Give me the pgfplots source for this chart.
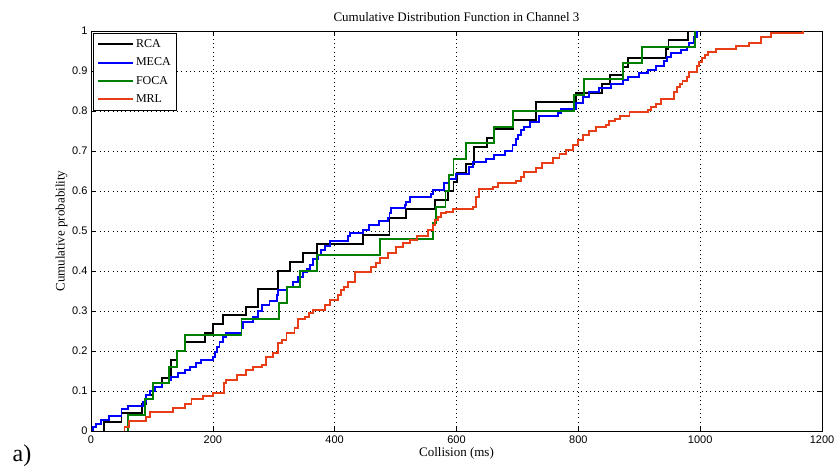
\documentclass[border=0pt]{standalone}
\usepackage{fontspec}
\setmainfont{Liberation Serif}
\newfontfamily\ticksans{Liberation Sans}
\usepackage{pgfplots}
\pgfplotsset{compat=1.18}
\usetikzlibrary{calc}
\definecolor{mblue}{RGB}{0,0,255}
\definecolor{mgreen}{RGB}{0,128,0}
\definecolor{mred}{RGB}{232,62,24}
\begin{document}
\begin{tikzpicture}
\begin{axis}[
  scale only axis,
  width=731bp, height=400bp,
  xmin=0, xmax=1200, ymin=0, ymax=1,
  xtick={0,200,...,1200},
  xticklabels={0,200,400,600,800,1000,1200},
  ytick={0,0.1,...,1},
  yticklabels={0,0.1,0.2,0.3,0.4,0.5,0.6,0.7,0.8,0.9,1},
  xtick pos=both, ytick pos=both,
  tick align=inside,
  major tick length=5bp,
  tick style={black, line width=0.5bp},
  axis line style={black, line width=0.8bp},
  grid=major,
  major grid style={black, line width=0.5bp, dash pattern=on 0.8bp off 3.5bp},
  /pgf/number format/assume math mode=true,
  ticklabel style={font=\ticksans\fontsize{11bp}{13bp}\selectfont},
  xticklabel style={yshift=-1bp},
  title={Cumulative Distribution Function in Channel 3},
  title style={font=\fontsize{13bp}{15bp}\selectfont, yshift=0bp},
  xlabel={Collision (ms)},
  ylabel={Cumulative probability},
  label style={font=\fontsize{13bp}{15bp}\selectfont},
  xlabel style={yshift=3bp},
  ylabel style={yshift=-2bp},
  legend style={at={(0.003,0.995)}, anchor=north west, draw=black, line width=0.9bp,
    font=\fontsize{12bp}{14bp}\selectfont, row sep=5bp, inner xsep=3.5bp, inner ysep=4bp},
  legend cell align=left,
  legend image code/.code={\draw[#1, line width=1.9bp] (0bp,0bp) -- (35bp,0bp);},
]
% RCA
\addplot[black, line width=1.9bp, const plot mark left, mark=none] coordinates {
(22,0) (22,0.022) (50,0.044) (84,0.067) (91,0.089) (102,0.111) (116,0.133)
(131,0.178) (141,0.2) (154,0.222) (187,0.244) (200,0.267) (217,0.289) (255,0.311)
(274,0.356) (307,0.4) (326,0.422) (348,0.444) (371,0.467) (447,0.489) (490,0.533)
(517,0.556) (565,0.578) (586,0.6) (595,0.622) (601,0.644) (616,0.667) (628,0.711)
(650,0.733) (662,0.756) (693,0.778) (730,0.822) (796,0.844) (839,0.867) (852,0.889)
(874,0.911) (881,0.933) (944,0.956) (948,0.978) (980,1)
};
\addlegendentry{RCA}
% MECA
\addplot[mblue, line width=1.9bp, const plot mark left, mark=none] coordinates {
(3,0) (3,0.009) (8,0.018) (17,0.028) (29,0.038) (50,0.054) (61,0.063) (86,0.073)
(91,0.09) (97,0.1) (105,0.109) (116,0.119) (128,0.128) (131,0.136) (143,0.144)
(154,0.153) (162,0.16) (173,0.169) (180,0.178) (200,0.186) (203,0.198) (207,0.21)
(211,0.223) (217,0.236) (222,0.245) (247,0.257) (250,0.273) (266,0.285) (274,0.3)
(280,0.315) (293,0.325) (305,0.34) (307,0.352) (321,0.36) (332,0.373) (340,0.385)
(348,0.398) (354,0.405) (359,0.415) (364,0.43) (373,0.44) (378,0.452) (384,0.463)
(392,0.475) (422,0.487) (425,0.495) (446,0.503) (457,0.515) (473,0.524) (487,0.532)
(490,0.544) (493,0.557) (515,0.565) (517,0.573) (523,0.584) (558,0.592) (561,0.603)
(580,0.619) (588,0.629) (599,0.642) (621,0.66) (627,0.672) (648,0.68) (662,0.69)
(679,0.7) (692,0.715) (697,0.73) (701,0.74) (706,0.752) (711,0.76) (720,0.773)
(736,0.787) (766,0.796) (772,0.804) (796,0.82) (807,0.836) (818,0.848) (834,0.858)
(853,0.867) (873,0.877) (881,0.886) (900,0.894) (914,0.902) (927,0.912) (940,0.925)
(945,0.936) (952,0.944) (968,0.952) (978,0.96) (982,0.97) (990,0.984) (995,1)
};
\addlegendentry{MECA}
% FOCA
\addplot[mgreen, line width=1.9bp, const plot mark left, mark=none] coordinates {
(61,0) (61,0.04) (88,0.08) (102,0.12) (128,0.16) (141,0.2) (154,0.24) (247,0.28)
(308,0.32) (322,0.36) (343,0.4) (371,0.44) (475,0.48) (562,0.52) (566,0.56)
(582,0.6) (587,0.64) (595,0.68) (616,0.72) (662,0.76) (693,0.8) (793,0.84)
(810,0.88) (873,0.92) (905,0.96) (992,1)
};
\addlegendentry{FOCA}
% MRL
\addplot[mred, line width=1.9bp, const plot mark left, mark=none] coordinates {
(55,0) (55,0.011) (62,0.025) (91,0.036) (97,0.047) (134,0.057) (154,0.068)
(165,0.079) (184,0.088) (200,0.096) (218,0.121) (222,0.128) (239,0.14) (255,0.152)
(266,0.16) (280,0.166) (288,0.186) (299,0.195) (307,0.219) (313,0.228) (321,0.244)
(334,0.257) (340,0.279) (351,0.286) (358,0.294) (364,0.303) (384,0.315) (392,0.328)
(405,0.34) (411,0.352) (416,0.36) (422,0.373) (434,0.398) (460,0.41) (468,0.42)
(474,0.432) (487,0.444) (501,0.46) (512,0.469) (523,0.478) (535,0.487) (553,0.503)
(561,0.515) (564,0.527) (569,0.536) (575,0.544) (583,0.548) (594,0.554) (627,0.56)
(632,0.586) (637,0.605) (660,0.611) (668,0.619) (698,0.626) (706,0.634) (711,0.648)
(730,0.658) (741,0.671) (758,0.683) (769,0.692) (780,0.702) (791,0.715) (799,0.728)
(807,0.74) (818,0.75) (829,0.759) (846,0.766) (851,0.775) (860,0.78) (868,0.788)
(884,0.797) (914,0.803) (920,0.81) (928,0.818) (935,0.83) (957,0.848) (962,0.86)
(967,0.868) (971,0.876) (979,0.886) (982,0.898) (995,0.912) (998,0.923) (1003,0.932)
(1008,0.94) (1013,0.947) (1026,0.954) (1059,0.962) (1080,0.971) (1100,0.986)
(1117,0.994) (1169,1)
};
\addlegendentry{MRL}
\end{axis}
\node[font=\fontsize{24bp}{28bp}\selectfont, anchor=center] at ($(current axis.south west)+(-69bp,-25bp)$) {a)};
\pgfresetboundingbox
\path ($(current axis.south west)+(-91bp,-41bp)$) rectangle ($(current axis.north east)+(15bp,31bp)$);
\end{tikzpicture}
\end{document}
